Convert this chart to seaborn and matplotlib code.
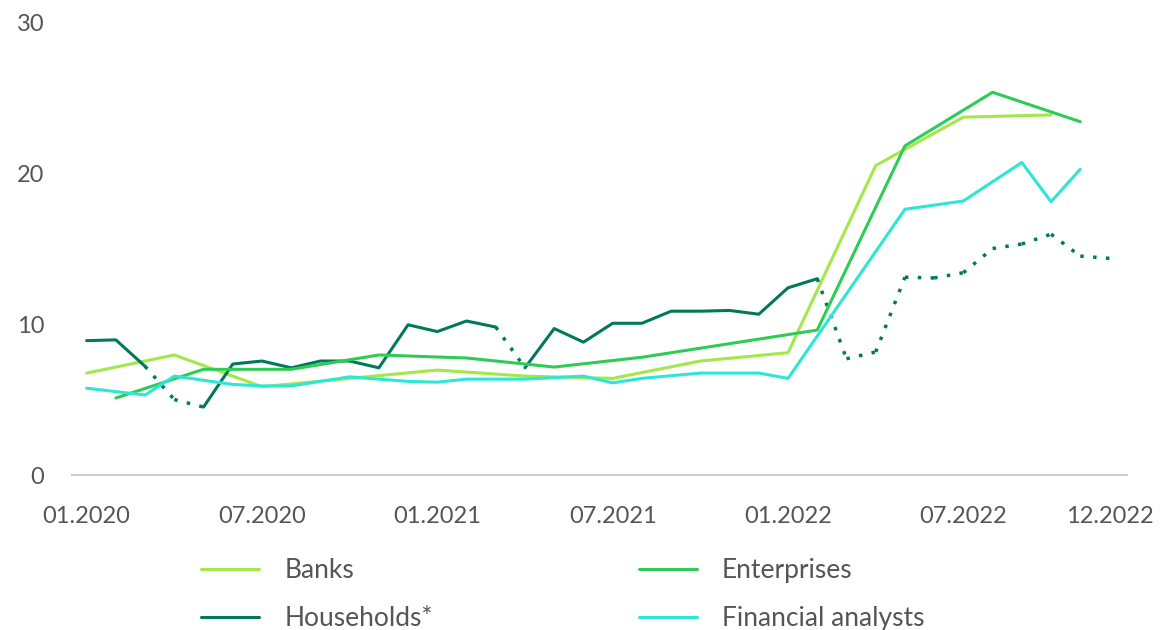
import numpy as np
import pandas as pd
import matplotlib.pyplot as plt
import seaborn as sns

# months counted from 01.2020 (0) to 12.2022 (35)
tick_months = [0, 6, 12, 18, 24, 30, 35]
tick_labels = ["01.2020", "07.2020", "01.2021", "07.2021", "01.2022", "07.2022", "12.2022"]

# quarterly surveys
banks_months = [0, 3, 6, 9, 12, 15, 18, 21, 24, 27, 30, 33]
banks = [6.75, 7.95, 5.85, 6.4, 6.95, 6.55, 6.4, 7.55, 8.1, 20.5, 23.7, 23.85]

ent_months = [1, 4, 7, 10, 13, 16, 19, 22, 25, 28, 31, 34]
enterprises = [5.1, 7.0, 7.0, 7.95, 7.75, 7.15, 7.8, 8.7, 9.6, 21.8, 25.35, 23.4]

fa_months = [0, 2, 3, 5, 6, 7, 9, 11, 12, 13, 15, 17, 18, 19, 21, 23, 24, 28, 30, 32, 33, 34]
analysts = [5.75, 5.3, 6.55, 6.0, 5.9, 5.9, 6.5, 6.2, 6.15, 6.35, 6.35, 6.55, 6.1, 6.4,
            6.75, 6.75, 6.4, 17.6, 18.15, 20.7, 18.1, 20.25]

hh_months = list(range(36))
households = [8.9, 8.95, 7.2, 5.0, 4.5, 7.35, 7.55, 7.1, 7.55, 7.55, 7.1, 9.95,
              9.5, 10.2, 9.8, 7.1, 9.7, 8.8, 10.05, 10.05, 10.85, 10.85, 10.9, 10.65,
              12.4, 13.0, 7.7, 8.15, 13.1, 13.05, 13.4, 15.0, 15.3, 15.95, 14.5, 14.35]
# segments (start month index) drawn dotted
hh_dotted = [2, 3, 14] + list(range(25, 35))

c_banks = "#a3e84a"
c_ent = "#2ecc55"
c_hh = "#00795a"
c_fa = "#2ee6d4"
text_col = "#555555"

sns.set_theme(style="white")
plt.rcParams["font.family"] = ["Lato", "DejaVu Sans"]

fig = plt.figure(figsize=(11.69, 6.3), dpi=100)
ax = fig.add_axes([0.0616, 0.246, 0.9025, 0.719])

lw = 2.2
sns.lineplot(x=banks_months, y=banks, color=c_banks, lw=lw, ax=ax, label="Banks")
# households: solid runs and dotted runs, segment by segment
solid_runs = []
run = [0]
for i in range(35):
    if i in hh_dotted:
        if len(run) > 1:
            solid_runs.append(run)
        run = [i + 1]
    else:
        run.append(i + 1)
if len(run) > 1:
    solid_runs.append(run)
for k, r in enumerate(solid_runs):
    sns.lineplot(x=[hh_months[j] for j in r], y=[households[j] for j in r],
                 color=c_hh, lw=lw, ax=ax, label="Households*" if k == 0 else None)
for i in hh_dotted:
    ax.plot(hh_months[i:i + 2], households[i:i + 2], color=c_hh, lw=2.5,
            linestyle=(0, (1.0, 2.7)))
sns.lineplot(x=ent_months, y=enterprises, color=c_ent, lw=lw, ax=ax, label="Enterprises")
sns.lineplot(x=fa_months, y=analysts, color=c_fa, lw=lw, ax=ax, label="Financial analysts")

ax.set_xlim(-0.5, 35.6)
ax.set_ylim(0, 30)
ax.set_yticks([0, 10, 20, 30])
ax.set_xticks(tick_months)
ax.set_xticklabels(tick_labels)
ax.tick_params(axis="both", length=0, labelsize=17, labelcolor=text_col)
ax.tick_params(axis="y", pad=20)
ax.tick_params(axis="x", pad=22)
for s in ["top", "right", "left"]:
    ax.spines[s].set_visible(False)
ax.spines["bottom"].set_color("#cccccc")
ax.spines["bottom"].set_linewidth(1.5)
ax.set_xlabel("")
ax.set_ylabel("")

h, l = ax.get_legend_handles_labels()
ax.get_legend().remove()
order = [l.index("Banks"), l.index("Households*"), l.index("Enterprises"), l.index("Financial analysts")]
leg = fig.legend([h[i] for i in order], [l[i] for i in order], ncol=2, frameon=False,
                 loc="upper left", bbox_to_anchor=(0.152, 0.152),
                 fontsize=19, handlelength=2.2, handletextpad=0.95,
                 columnspacing=7.8, labelspacing=0.88)
for t in leg.get_texts():
    t.set_color(text_col)

fig.savefig("out.png", dpi=100)
